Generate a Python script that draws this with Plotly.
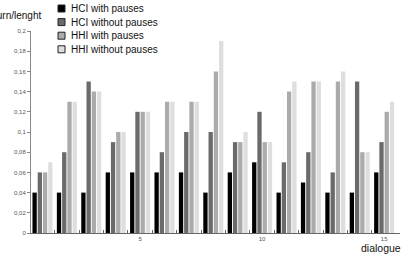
import plotly.graph_objects as go

dialogues = list(range(1, 16))
series_names = ["HCI with pauses", "HCI without pauses", "HHI with pauses", "HHI without pauses"]
hci_with = [0.04, 0.04, 0.04, 0.06, 0.06, 0.06, 0.06, 0.04, 0.06, 0.07, 0.04, 0.05, 0.04, 0.04, 0.06]
hci_without = [0.06, 0.08, 0.15, 0.09, 0.12, 0.08, 0.10, 0.10, 0.09, 0.12, 0.07, 0.08, 0.06, 0.15, 0.09]
hhi_with = [0.06, 0.13, 0.14, 0.10, 0.12, 0.13, 0.13, 0.16, 0.09, 0.09, 0.14, 0.15, 0.15, 0.08, 0.12]
hhi_without = [0.07, 0.13, 0.14, 0.10, 0.12, 0.13, 0.13, 0.19, 0.10, 0.09, 0.15, 0.15, 0.16, 0.08, 0.13]
y_ticks = [0, 0.02, 0.04, 0.06, 0.08, 0.1, 0.12, 0.14, 0.16, 0.18, 0.2]
x_labels = [5, 10, 15]

colors = ["#000000", "#6a6a6a", "#ababab", "#dedede"]
values = [hci_with, hci_without, hhi_with, hhi_without]

W, H = 402, 260
ml, mr, mt, mb = 31, 2, 31, 27
pw, ph = W - ml - mr, H - mt - mb

def px(x):
    return (x - ml) / pw

def py(y):
    return (H - mb - y) / ph

fig = go.Figure()
for name, vals, c in zip(series_names, values, colors):
    fig.add_trace(go.Bar(x=dialogues, y=vals, name=name, marker=dict(color=c, line=dict(width=0))))

font = "Liberation Sans, Arial, sans-serif"
shapes = []
annotations = []
for i, (name, c) in enumerate(zip(series_names, colors)):
    cy = 8.5 + i * 13.6
    shapes.append(dict(type="rect", xref="paper", yref="paper",
                       x0=px(58), x1=px(65), y0=py(cy - 3.5), y1=py(cy + 3.5),
                       fillcolor=c, line=dict(color="#222222", width=1)))
    annotations.append(dict(text=name, xref="paper", yref="paper", x=px(69), y=py(cy),
                            xanchor="left", yanchor="middle", showarrow=False,
                            font=dict(family=font, size=10, color="#111111")))

annotations.append(dict(text="turn/lenght", xref="paper", yref="paper", x=px(43), y=py(16),
                        xanchor="right", yanchor="middle", showarrow=False,
                        font=dict(family=font, size=10, color="#111111")))
annotations.append(dict(text="dialogue", xref="paper", yref="paper", x=px(403), y=py(248),
                        xanchor="right", yanchor="middle", showarrow=False,
                        font=dict(family=font, size=10.5, color="#111111")))

fig.update_layout(
    width=W, height=H,
    margin=dict(l=ml, r=mr, t=mt, b=mb, pad=0),
    plot_bgcolor="white", paper_bgcolor="white",
    barmode="group", bargap=0.14, bargroupgap=0.18,
    showlegend=False,
    separators=",.",
    font=dict(family=font, size=6, color="#555555"),
    shapes=shapes, annotations=annotations,
    xaxis=dict(range=[0.53, 15.65], tickvals=x_labels, ticktext=[str(v) for v in x_labels],
               ticks="", showgrid=False, zeroline=False,
               showline=True, linecolor="#666666", linewidth=1,
               tickfont=dict(size=6, color="#555555"),
               minor=dict(tickvals=[v + 0.5 for v in dialogues[:-1]], ticks="inside",
                          ticklen=3, tickcolor="#666666")),
    yaxis=dict(range=[0, 0.2], tickvals=y_ticks, ticks="outside", ticklen=3,
               tickcolor="#888888", showgrid=False, zeroline=False,
               showline=True, linecolor="#888888", linewidth=1,
               tickfont=dict(size=6, color="#555555")),
)

fig.write_html("out.html")
